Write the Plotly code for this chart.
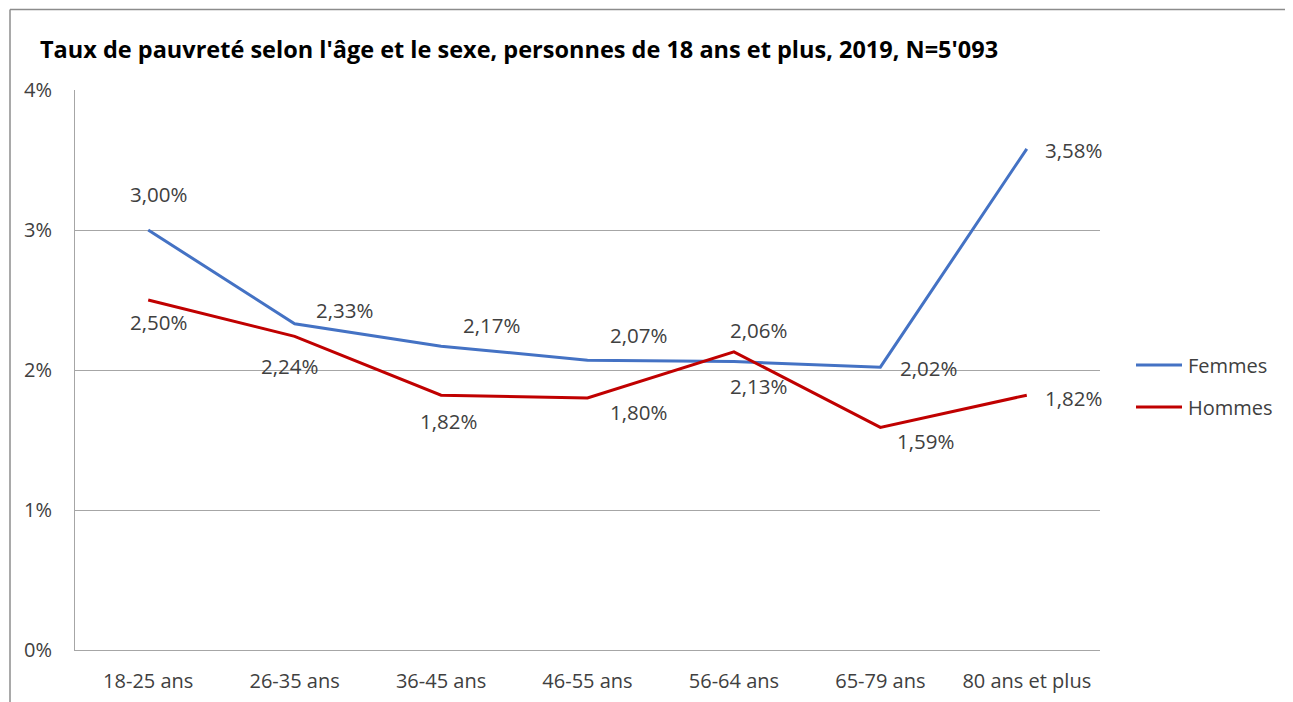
import plotly.graph_objects as go

categories = ["18-25 ans", "26-35 ans", "36-45 ans", "46-55 ans", "56-64 ans", "65-79 ans", "80 ans et plus"]
femmes = [3.00, 2.33, 2.17, 2.07, 2.06, 2.02, 3.58]
hommes = [2.50, 2.24, 1.82, 1.80, 2.13, 1.59, 1.82]
y_ticks = [0, 1, 2, 3, 4]
y_ticklabels = ["0%", "1%", "2%", "3%", "4%"]
series_names = ["Femmes", "Hommes"]

title = "Taux de pauvreté selon l'âge et le sexe, personnes de 18 ans et plus, 2019, N=5'093"

# label offsets (px) relative to each point
fem_off = [(10, 36), (50, 14), (50, 21), (51, 25), (25, 32), (48, -1), (47, -1)]
hom_off = [(10, -22), (-5, -30), (7, -26), (51, -14), (25, -34), (45, -14), (47, -3)]

FONT = "Open Sans, sans-serif"
TXT = "#404040"
BLUE = "#4472C4"
RED = "#C00000"
COLORS = [BLUE, RED]

OFF = 8  # page body margin
W, H = 1293 - 2 * OFF, 702 - OFF
L = 75 - OFF
T = 90 - OFF
R = W - (1100 - OFF)
B = H - (650 - OFF)

fig = go.Figure()
for name, vals, col in zip(series_names, (femmes, hommes), COLORS):
    fig.add_trace(go.Scatter(x=categories, y=vals, mode="lines", name=name,
                             line=dict(color=col, width=3), showlegend=False))

def fmt(v):
    return f"{v:.2f}".replace(".", ",") + "%"

annotations = []
for vals, offs in ((femmes, fem_off), (hommes, hom_off)):
    for c, v, (dx, dy) in zip(categories, vals, offs):
        annotations.append(dict(x=c, y=v, xref="x", yref="y", text=fmt(v), showarrow=False,
                                xshift=dx, yshift=dy, font=dict(family=FONT, size=20.5, color=TXT)))

pw = W - L - R
ph = H - T - B
def px_x(p):  # page px -> paper
    return (p - OFF - L) / pw
def px_y(p):
    return (H - B - (p - OFF)) / ph

BORDER = dict(color="#8C8C8C", width=1.5)
shapes = [
    dict(type="line", xref="paper", yref="paper", x0=px_x(10), x1=px_x(1300),
         y0=px_y(9.5), y1=px_y(9.5), line=BORDER, layer="below"),
    dict(type="line", xref="paper", yref="paper", x0=px_x(10), x1=px_x(10),
         y0=px_y(9.5), y1=px_y(720), line=BORDER, layer="below"),
]

# manual legend
for i, (name, col) in enumerate(zip(series_names, COLORS)):
    yy = px_y(365 + 42 * i)
    shapes.append(dict(type="line", xref="paper", yref="paper", x0=px_x(1136), x1=px_x(1182),
                       y0=yy, y1=yy, line=dict(color=col, width=3)))
    annotations.append(dict(x=px_x(1186), y=yy, xref="paper", yref="paper", text=name,
                            showarrow=False, xanchor="left", yanchor="middle",
                            font=dict(family=FONT, size=20, color=TXT)))

fig.update_layout(
    width=W, height=H,
    margin=dict(l=L, r=R, t=T, b=B, autoexpand=False),
    paper_bgcolor="white", plot_bgcolor="white",
    title=dict(text="<b>" + title + "</b>", x=(40 - OFF) / W, xanchor="left", xref="container",
               y=1 - (50 - OFF) / H, yanchor="middle", yref="container",
               font=dict(family=FONT, size=23.5, color="black")),
    xaxis=dict(type="category", showgrid=False, showline=True, linecolor="#A6A6A6", linewidth=1,
               ticks="", tickfont=dict(family=FONT, size=20, color=TXT), ticklabelstandoff=13,
               range=[-0.5, len(categories) - 0.5], automargin=False),
    yaxis=dict(range=[0, 4], tickvals=y_ticks, ticktext=y_ticklabels, showgrid=True,
               gridcolor="#A6A6A6", gridwidth=1, showline=True, linecolor="#A6A6A6", linewidth=1,
               zeroline=False, ticks="", tickfont=dict(family=FONT, size=20, color=TXT),
               ticklabelstandoff=18, automargin=False),
    annotations=annotations,
    shapes=shapes,
    showlegend=False,
)

fig.write_html("out.html")
